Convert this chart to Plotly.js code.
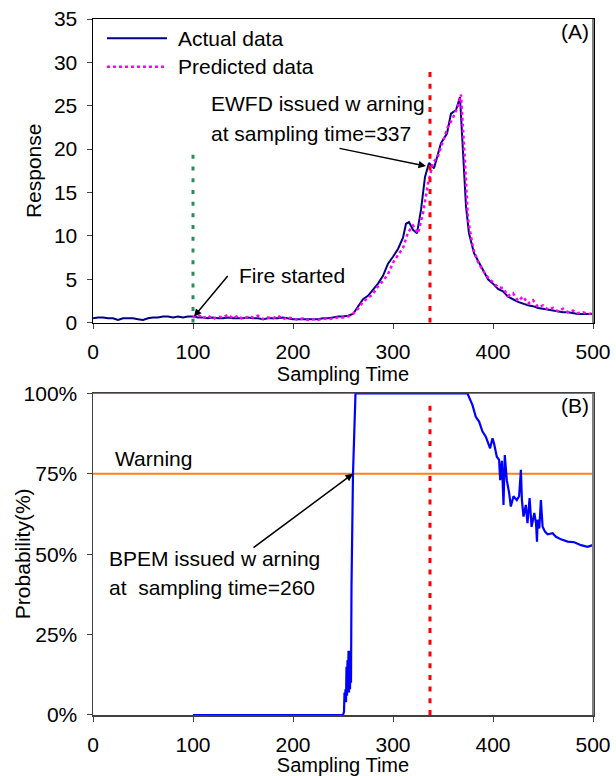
<!DOCTYPE html>
<html>
<head>
<meta charset="utf-8">
<script src="https://cdn.plot.ly/plotly-3.0.1.min.js"></script>
<style>html,body{margin:0;padding:0;background:#fff;}#chart{width:616px;height:776px;}</style>
</head>
<body>
<div id="chart"></div>
<script>
// ---------- Data ----------
var actualTime = [0,5,10,15,20,25,30,35,40,45,50,55,60,65,70,75,80,85,90,95,100,
  105,110,115,120,125,130,135,140,145,150,155,160,165,170,175,180,185,190,195,200,
  205,210,215,220,225,230,235,240,245,250,255,260,265,270,275,280,285,290,295,300,
  305,310,313,316,320,324,328,332,336,341,345,348,354,358,363,367,369,371,373,376,381,
  388,395,400,405,410,415,420,425,430,435,440,445,450,455,460,465,470,475,480,485,490,495,500];
var actualResponse = [0.5,0.6,0.6,0.5,0.5,0.3,0.5,0.5,0.5,0.4,0.3,0.5,0.6,0.6,0.7,0.7,0.6,0.7,0.6,0.7,0.7,
  0.6,0.6,0.5,0.6,0.5,0.5,0.6,0.5,0.5,0.5,0.6,0.5,0.5,0.4,0.5,0.5,0.5,0.6,0.5,0.4,
  0.4,0.4,0.4,0.4,0.4,0.5,0.5,0.6,0.7,0.7,0.8,1.0,1.9,2.7,3.1,3.8,4.5,5.4,6.8,7.6,
  8.5,9.8,11.4,11.6,10.7,10.3,13.0,16.8,18.4,17.8,19.6,20.7,21.8,24.1,24.5,26.0,21.8,18.0,13.4,10.3,8.0,
  6.5,5.0,4.5,3.9,3.6,3.0,2.7,2.4,2.2,2.0,1.9,1.7,1.6,1.5,1.4,1.3,1.2,1.2,1.1,1.0,1.0,1.0,1.0];

var predictedTime = [100,105,110,115,120,125,130,135,140,145,150,155,160,165,170,175,180,185,190,195,200,
  205,210,215,220,225,230,235,240,245,250,255,260,265,270,275,280,285,290,295,300,
  305,310,315,320,325,330,335,340,345,350,355,360,365,368,370,372,375,380,385,390,395,400,
  405,410,415,420,425,430,435,440,445,450,455,460,465,470,475,480,485,490,495,500];
var predictedResponse = [0.6,0.9,0.5,0.8,0.4,0.7,0.6,0.9,0.5,0.8,0.4,0.7,0.6,0.8,0.4,0.6,0.5,0.8,0.4,0.6,0.5,
  0.3,0.5,0.3,0.4,0.3,0.5,0.4,0.5,0.6,0.6,0.7,1.0,1.6,2.4,2.9,3.3,4.2,4.8,5.6,6.9,
  7.8,8.6,10.4,11.2,10.3,12.6,16.0,18.4,19.2,21.0,22.6,23.6,25.0,26.3,23.0,18.5,12.0,8.6,7.0,6.0,5.2,4.7,
  4.1,4.0,3.1,3.4,2.5,3.0,2.2,2.6,1.8,2.0,1.5,1.7,1.3,1.6,1.2,1.4,1.1,1.2,1.0,1.1];

var probTime = [100,150,200,250,251,251.5,252,252.5,253,253.5,254,254.5,255,255.5,256,256.5,257,257.5,258,258.5,259,259.5,260,261,262,262.5,
  300,340,374.4,379.4,382.8,386.1,389.5,392.8,397.1,399.5,401,403.8,406.1,407.2,408.9,410.5,411.8,413.8,416.2,417.8,420.5,423.8,426.1,427.9,428.9,430.5,
  432.8,434.5,436.6,438.6,441.3,443,444,444.6,446.3,447.9,449.6,452,454.6,459.6,463,468,474.6,481.3,488,494.6,499.6];
var probValue = [0,0,0,0,0.01,0.07,0.05,0.08,0.04,0.15,0.06,0.17,0.07,0.20,0.07,0.19,0.08,0.20,0.10,0.40,0.60,0.70,0.75,0.85,0.95,1.0,
  1.0,1.0,1.0,0.964,0.927,0.912,0.881,0.865,0.829,0.860,0.845,0.803,0.793,0.73,0.79,0.653,0.808,0.73,0.689,0.648,0.68,0.668,0.68,0.762,0.668,0.617,
  0.653,0.596,0.674,0.585,0.628,0.596,0.539,0.607,0.58,0.668,0.585,0.57,0.562,0.565,0.554,0.546,0.539,0.537,0.528,0.523,0.528];

var timeSpan = [0, 500];
var warningLevel = 0.75;
var maxLevel = 1.0;
var fireStartTime = 100;
var fireMarkerTop = 20;
var ewfdWarningTime = 337;
var ewfdMarkerTop = 29.5;
var probMarkerTop = 0.98;
var bpemWarningTime = 260;

var xTicks = [0,100,200,300,400,500];
var yTicksTop = [0,5,10,15,20,25,30,35];
var yTicksBottom = [0,0.25,0.5,0.75,1];

var FONT = 'Liberation Sans, Arial, sans-serif';

var traces = [
  {x: actualTime, y: actualResponse, xaxis:'x', yaxis:'y', mode:'lines', name:'Actual data',
   line:{color:'#000080', width:2}},
  {x: predictedTime, y: predictedResponse, xaxis:'x', yaxis:'y', mode:'lines', name:'Predicted data',
   line:{color:'#ff00ff', width:2.5, dash:'dot'}},
  {x: [fireStartTime, fireStartTime], y: [0, fireMarkerTop], xaxis:'x', yaxis:'y', mode:'lines',
   line:{color:'#2e8b57', width:3, dash:'4px,7.7px'}},
  {x: [ewfdWarningTime, ewfdWarningTime], y: [0, ewfdMarkerTop], xaxis:'x', yaxis:'y', mode:'lines',
   line:{color:'#ff0000', width:3, dash:'5px,6.7px'}},
  {x: timeSpan, y: [warningLevel, warningLevel], xaxis:'x2', yaxis:'y2', mode:'lines',
   line:{color:'#ff7f1e', width:2}},
  {x: timeSpan, y: [maxLevel, maxLevel], xaxis:'x2', yaxis:'y2', mode:'lines', cliponaxis:false,
   line:{color:'#ff0000', width:1.5}},
  {x: [ewfdWarningTime, ewfdWarningTime], y: [0, probMarkerTop], xaxis:'x2', yaxis:'y2', mode:'lines',
   line:{color:'#ff0000', width:3, dash:'5px,6.7px'}},
  {x: probTime, y: probValue, xaxis:'x2', yaxis:'y2', mode:'lines',
   line:{color:'#0000ff', width:2.2}}
];

var axisCommon = {showgrid:false, zeroline:false, ticks:'outside', ticklen:5, tickwidth:1,
  showline:true, mirror:true, ticklabelstandoff:5, tickfont:{family:FONT, size:21, color:'#000'}};

function txt(text, xr, yr, x, y, xanchor, size){
  return {text:text, xref:xr, yref:yr, x:x, y:y, xanchor:xanchor, yanchor:'middle',
    showarrow:false, font:{family:FONT, size:size||21, color:'#000'}};
}

var probTitle = txt('Probability(%)','paper','y2 domain',-0.142,0.5,'center');
probTitle.textangle = -90;

var annotations = [
  // legend text (top panel)
  txt('Actual data','x domain','y domain',0.1655,0.9365,'left'),
  txt('Predicted data','x domain','y domain',0.1655,0.843,'left'),
  txt('(A)','x domain','y domain',0.9966,0.958,'right'),
  txt('EWFD issued w arning','x domain','y domain',0.2327,0.7201,'left'),
  txt('at sampling time=337','x domain','y domain',0.2327,0.6213,'left'),
  txt('Fire started','x domain','y domain',0.2882,0.1538,'left'),
  {text:'', x:101, y:0.7, xref:'x', yref:'y', showarrow:true, arrowhead:2, arrowsize:1, arrowwidth:1.5,
   arrowcolor:'#000', ax:35, ay:-42},
  {text:'', x:333, y:18.05, xref:'x', yref:'y', showarrow:true, arrowhead:2, arrowsize:1, arrowwidth:1.5,
   arrowcolor:'#000', ax:-88, ay:-18},
  // bottom panel
  txt('(B)','x2 domain','y2 domain',0.9966,0.9636,'right'),
  txt('Warning','x2 domain','y2 domain',0.04,0.7958,'left'),
  txt('BPEM issued w arning','x2 domain','y2 domain',0.0286,0.485,'left'),
  txt('at  sampling time=260','x2 domain','y2 domain',0.0286,0.395,'left'),
  {text:'', x:bpemWarningTime, y:warningLevel, xref:'x2', yref:'y2', showarrow:true, arrowhead:2, arrowsize:1,
   arrowwidth:1.5, arrowcolor:'#000', ax:-101, ay:75},
  probTitle
];

var shapes = [
  {type:'line', xref:'x domain', yref:'y domain', x0:0.028, x1:0.148, y0:0.9365, y1:0.9365,
   line:{color:'#000080', width:2}},
  {type:'line', xref:'x domain', yref:'y domain', x0:0.028, x1:0.148, y0:0.843, y1:0.843,
   line:{color:'#ff00ff', width:2.5, dash:'dot'}},
  {type:'line', xref:'x domain', yref:'y domain', x0:1, x1:1, y0:0, y1:1, line:{color:'#808080', width:2}},
  {type:'line', xref:'x2 domain', yref:'y2 domain', x0:1, x1:1, y0:0, y1:1, line:{color:'#808080', width:2}}
];

var layout = {
  width:616, height:776, showlegend:false,
  paper_bgcolor:'#fff', plot_bgcolor:'#fff',
  margin:{l:93, r:23, t:19, b:61, pad:0},
  font:{family:FONT, size:21, color:'#000'},
  xaxis: Object.assign({}, axisCommon, {anchor:'y', domain:[0,1], range:timeSpan, tickvals:xTicks,
    linecolor:'#000', linewidth:1.5,
    title:{text:'Sampling Time', font:{family:FONT, size:20}, standoff:0}}),
  yaxis: Object.assign({}, axisCommon, {anchor:'x', domain:[0.5637,1], range:[0,35], tickvals:yTicksTop,
    linecolor:'#000', linewidth:1.5,
    title:{text:'Response', font:{family:FONT, size:21}, standoff:6}}),
  xaxis2: Object.assign({}, axisCommon, {anchor:'y2', domain:[0,1], range:timeSpan, tickvals:xTicks,
    linecolor:'#404040', linewidth:1.5,
    title:{text:'Sampling Time', font:{family:FONT, size:20}, standoff:0}}),
  yaxis2: Object.assign({}, axisCommon, {anchor:'x2', domain:[0,0.4622], range:[0,1], tickvals:yTicksBottom,
    tickformat:'.0%', linecolor:'#404040', linewidth:1.5}),
  annotations: annotations,
  shapes: shapes
};

Plotly.newPlot('chart', traces, layout, {staticPlot:true, displayModeBar:false});
</script>
</body>
</html>
